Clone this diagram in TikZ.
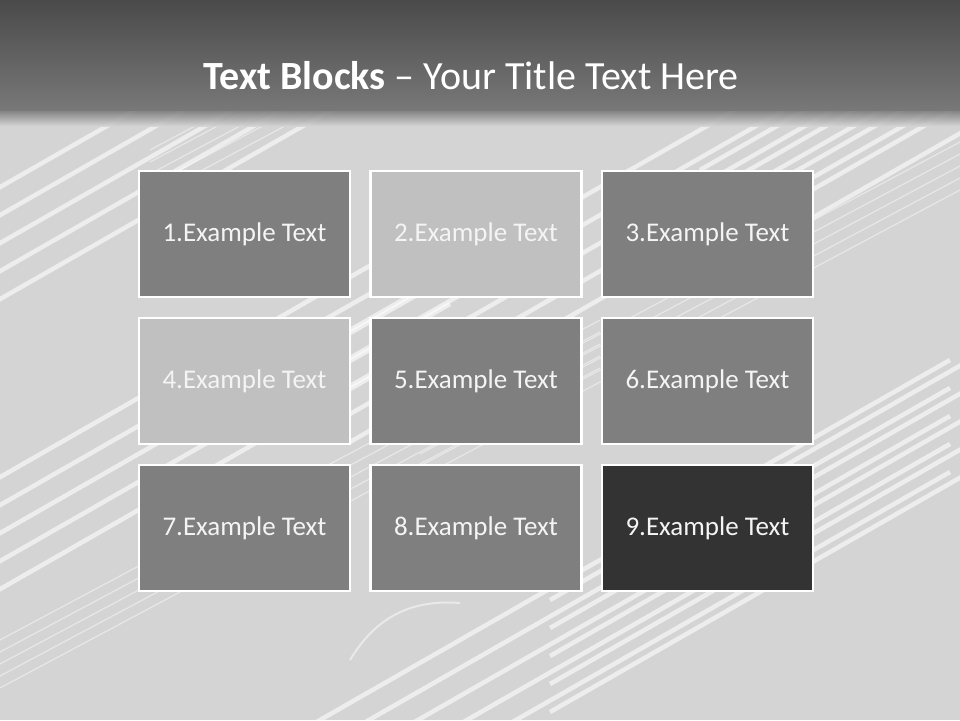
\documentclass[tikz,border=0pt]{standalone}
\usepackage{fontspec}
\setmainfont{Carlito}
\definecolor{bgc}{HTML}{D4D4D4}
\definecolor{hdtop}{HTML}{4A4A4A}
\definecolor{hdbot}{HTML}{787878}
\definecolor{midg}{HTML}{7F7F7F}
\definecolor{lightg}{HTML}{C0C0C0}
\definecolor{darkg}{HTML}{333333}
\definecolor{txt}{HTML}{F4F4F4}
\tikzset{
  x=1pt, y=-1pt,
  block/.style={draw=white, line width=2.5pt, minimum width=211pt, minimum height=126pt,
    inner sep=0pt, text=txt, font=\fontsize{27}{32}\selectfont},
  staff/.style={draw=white, line width=4.5pt, opacity=0.6},
  thin staff/.style={draw=white, line width=1.2pt, opacity=0.45},
}
\begin{document}
\begin{tikzpicture}
\useasboundingbox (0,0) rectangle (960,720);
\fill[bgc] (0,0) rectangle (960,720);
% decorative staff lines
\begin{scope}
\clip (0,110) rectangle (960,720);
\foreach \ox/\oy in {-250/330, -250/620, 250/760, 350/330, 550/600, 700/170} {
  \foreach \k in {0,1,2,3,4} {
    \draw[staff] (\ox, \oy+28*\k) -- ++(700,-400);
  }
}
\foreach \ox/\oy in {0/640, 420/430, 150/150} {
  \foreach \k in {0,1,2,3,4} {
    \draw[thin staff] (\ox, \oy+12*\k) -- ++(600,-320);
  }
}
\draw[white, opacity=0.5, line width=2pt] (350,660) .. controls (380,610) and (420,600) .. (460,603);
\end{scope}
% header
\shade[top color=hdtop, bottom color=hdbot] (0,0) rectangle (960,110);
\shade[top color=hdbot, bottom color=bgc, opacity=0.9] (0,110) rectangle (960,126);
\node[text=white, font=\fontsize{40}{46}\selectfont] (title) at (471,76) {\textbf{Text Blocks} – Your Title Text Here};
% blocks
\node[block, fill=midg]   (b1) at (244.5,234) {1.Example Text};
\node[block, fill=lightg] (b2) at (476,234)   {2.Example Text};
\node[block, fill=midg]   (b3) at (707.5,234) {3.Example Text};
\node[block, fill=lightg] (b4) at (244.5,381) {4.Example Text};
\node[block, fill=midg]   (b5) at (476,381)   {5.Example Text};
\node[block, fill=midg]   (b6) at (707.5,381) {6.Example Text};
\node[block, fill=midg]   (b7) at (244.5,528) {7.Example Text};
\node[block, fill=midg]   (b8) at (476,528)   {8.Example Text};
\node[block, fill=darkg]  (b9) at (707.5,528) {9.Example Text};
\end{tikzpicture}
\end{document}
